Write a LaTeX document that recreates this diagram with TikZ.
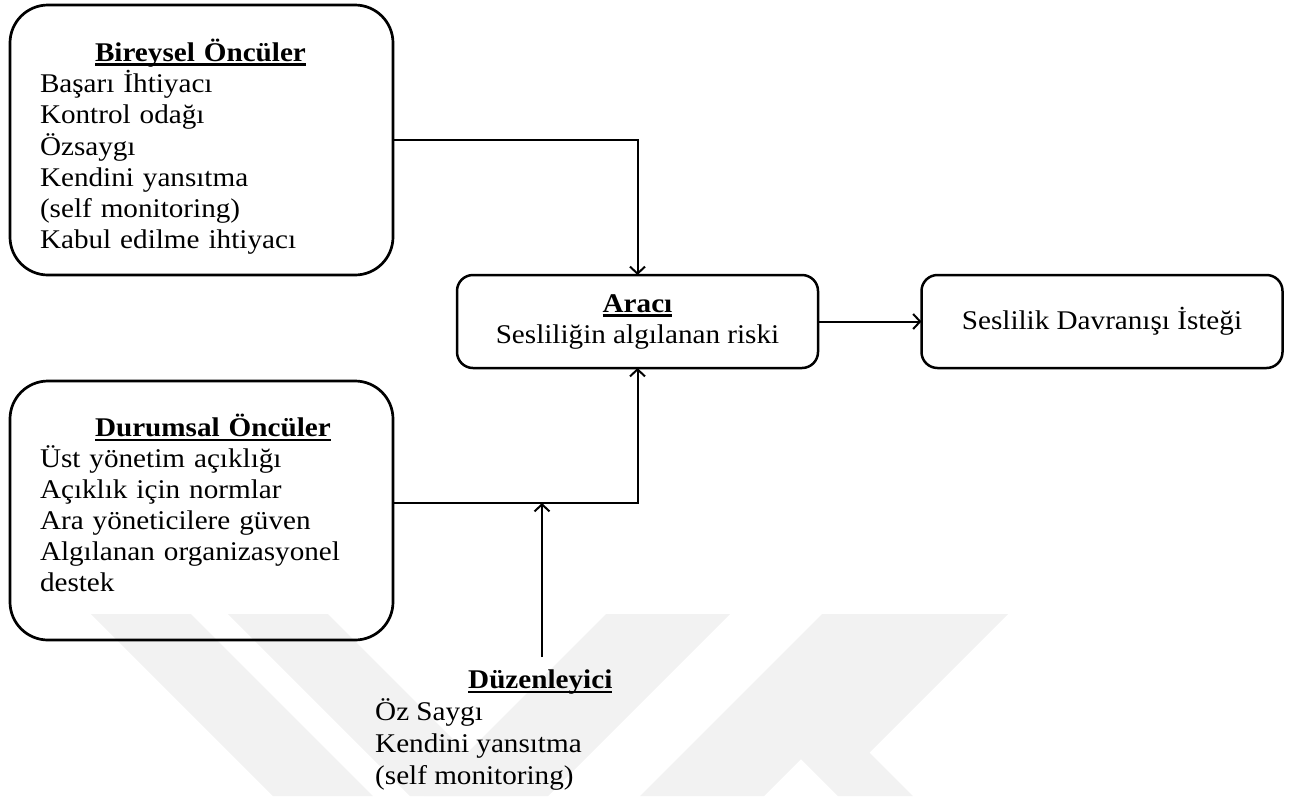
\documentclass[tikz,border=0pt]{standalone}
\usepackage{fontspec}
\setmainfont{Liberation Serif}[FakeStretch=1.08]
\usetikzlibrary{arrows.meta}

% bold heading with a firm underline
\newcommand\ulhead[1]{\setbox0=\hbox{\bfseries #1}\rlap{\rule[-4.5pt]{\wd0}{2.2pt}}\box0}

\begin{document}
\begin{tikzpicture}[x=1pt,y=-1pt,
  txt/.style={font=\fontsize{27pt}{31pt}\selectfont},
  bigbox/.style={txt, draw, line width=2.7pt, rounded corners=38pt,
    minimum width=383pt, text width=323pt, inner xsep=30pt, inner ysep=0pt,
    outer sep=0pt, align=left, anchor=north west},
  smallbox/.style={txt, draw, line width=2.5pt, rounded corners=16pt,
    minimum width=361pt, minimum height=93pt, outer sep=0pt, align=center},
  conn/.style={line width=2pt, -{Straight Barb[length=7pt,width=15pt]}},
  emblem/.style={fill=gray!10, draw=none}
]
\useasboundingbox (0,0) rectangle (1295,796);

% faint emblem in the lower part of the page
\fill[emblem] (91,614) -- (191,614) -- (373,796) -- (273,796) -- cycle;
\fill[emblem] (228,614) -- (328,614) -- (510,796) -- (410,796) -- cycle;
\fill[emblem] (606,614) -- (730,614) -- (548,796) -- (424,796) -- cycle;
\fill[emblem] (822,614) -- (1008,614) -- (869.5,752.5) -- (913,796) -- (838,796)
  -- (801,759) -- (764,796) -- (640,796) -- cycle;

% antecedent boxes (invisible struts trim the vertical placement of the lists)
\node[bigbox, minimum height=270pt, font=\fontsize{27pt}{31.3pt}\selectfont] (bir) at (10,5) {%
  \rule{0pt}{36pt}\hspace*{55pt}\ulhead{Bireysel Öncüler}\\
  Başarı İhtiyacı\\
  Kontrol odağı\\
  Özsaygı\\
  Kendini yansıtma\\
  (self monitoring)\\
  Kabul edilme ihtiyacı};

\node[bigbox, minimum height=259pt] (dur) at (10,381) {%
  \hspace*{55pt}\ulhead{Durumsal Öncüler}\\
  Üst yönetim açıklığı\\
  Açıklık için normlar\\
  Ara yöneticilere güven\\
  Algılanan organizasyonel\\
  destek\rule[-16pt]{0pt}{1pt}};

% mediator and outcome
\node[smallbox] (araci) at (637.5,321.5) {\ulhead{Aracı}\\ Sesliliğin algılanan riski};
\node[smallbox] (ses) at (1102,321.5) {Seslilik Davranışı İsteği};

% moderator
\node[txt, font=\fontsize{27pt}{32pt}\selectfont, align=left, anchor=north west,
  inner sep=0pt] (duz) at (375,670) {%
  \hspace*{93pt}\ulhead{Düzenleyici}\\
  Öz Saygı\\
  Kendini yansıtma\\
  (self monitoring)};

% connectors
\coordinate (jn) at (542,503);
\coordinate (mtop) at (542,657);
\draw[conn] (bir.east) -| (araci.north);
\draw[conn] ([yshift=7.5pt]dur.east) -| (araci.south);
\draw[conn] (mtop) -- (jn);
\draw[conn] (araci) -- (ses);
\end{tikzpicture}
\end{document}
